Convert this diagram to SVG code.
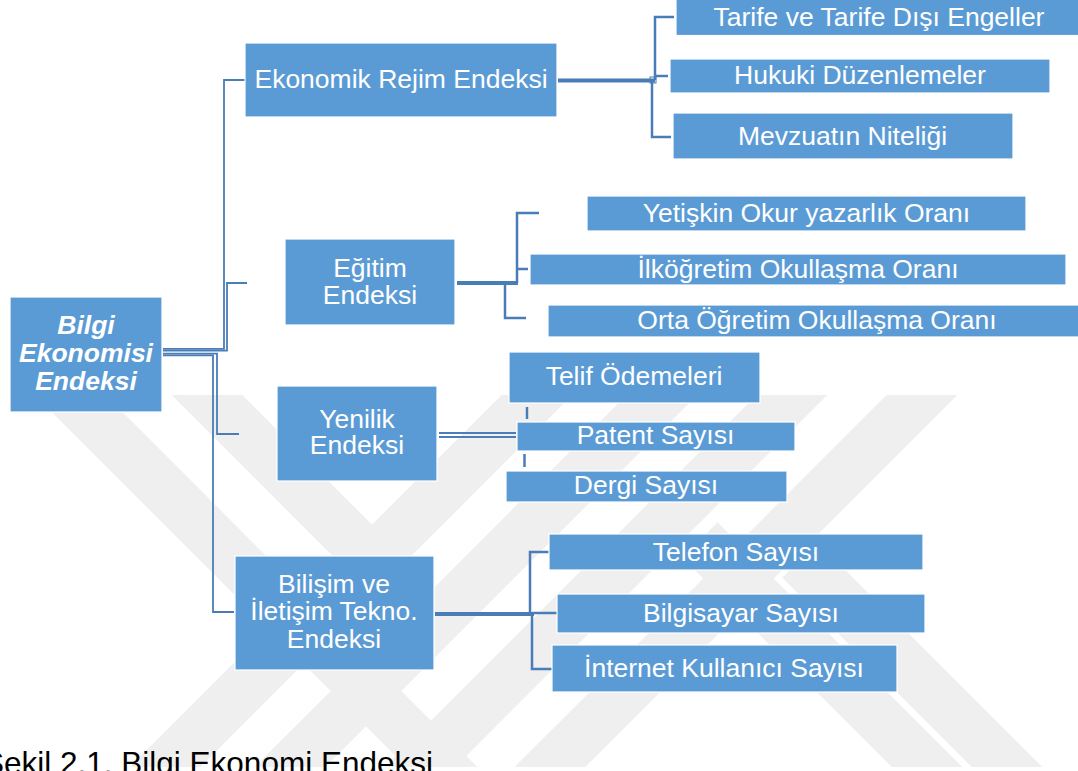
<svg xmlns="http://www.w3.org/2000/svg" width="1078" height="771" viewBox="0 0 1078 771">
<style>
.box{fill:#5b9bd5;stroke:#ffffff;stroke-width:1.2}
.t{font-family:"Liberation Sans",Arial,sans-serif;font-size:26.5px;fill:#ffffff;text-anchor:middle}
.rt{font-weight:bold;font-style:italic}
.c{fill:none;stroke:#4a7db6;stroke-width:2.5}
.ct{fill:none;stroke:#4a7db6;stroke-width:4}
.cd{fill:none;stroke:#4a7db6;stroke-width:1.8}
.wm{fill:none;stroke:#efefef;stroke-width:50;stroke-linecap:butt}
.cap{font-family:"Liberation Sans",Arial,sans-serif;font-size:31.5px;fill:#000000}
</style>
<defs>
<clipPath id="wmclip"><rect x="0" y="395" width="1078" height="372"/></clipPath>
</defs>
<rect width="1078" height="771" fill="#ffffff"/>
<g id="watermark" clip-path="url(#wmclip)">
<line class="wm" x1="130" y1="802" x2="572" y2="360"/>
<line class="wm" x1="255" y1="802" x2="697" y2="360"/>
<line class="wm" x1="385" y1="802" x2="827" y2="360"/>
<line class="wm" x1="515" y1="802" x2="957" y2="360"/>
<line class="wm" x1="35" y1="360" x2="477" y2="802"/>
<line class="wm" x1="172" y1="360" x2="390" y2="578"/>
<line class="wm" x1="700" y1="540" x2="962" y2="802"/>
<line class="wm" x1="800" y1="560" x2="1042" y2="802"/>
</g>
<g id="connectors">
<path class="cd" d="M163,348.8 H224 V80 H245"/>
<path class="cd" d="M163,350.6 H227 V283 H247"/>
<path class="cd" d="M163,353.6 H217 V434 H239"/>
<path class="cd" d="M163,355.4 H213 V612 H234"/>
<path class="ct" d="M558,80.5 H655"/>
<path class="c" d="M655,80 V17 H674"/>
<path class="c" d="M652,80 V137 H671"/>
<path class="c" d="M655,76 H668"/>
<rect x="650" y="77" width="6" height="6" fill="none" stroke="#4a7db6" stroke-width="1"/>
<path class="ct" d="M457,283 H518"/>
<path class="c" d="M517,283 V213 H539"/>
<path class="c" d="M517,269 H528"/>
<path class="c" d="M505,283 V318 H526"/>
<path class="cd" d="M439,433 H516"/>
<path class="cd" d="M439,437 H516"/>
<path class="c" d="M527,407 V419"/>
<path class="c" d="M524.5,454 V467"/>
<path class="ct" d="M435,614 H534"/>
<path class="c" d="M530,614 V552 H549"/>
<path class="c" d="M532,613 H557"/>
<path class="c" d="M532,614 V669 H552"/>
</g>
<g id="root">
<rect class="box" x="10" y="297" width="152" height="115"/>
<text class="t rt" x="86" y="334">Bilgi</text>
<text class="t rt" x="86" y="362">Ekonomisi</text>
<text class="t rt" x="86" y="390">Endeksi</text>
</g>
<g id="ekonomik">
<rect class="box" x="245" y="43" width="312" height="74"/>
<text class="t" x="401" y="88">Ekonomik Rejim Endeksi</text>
</g>
<g id="egitim">
<rect class="box" x="285" y="239" width="170" height="86"/>
<text class="t" x="370" y="277">Eğitim</text>
<text class="t" x="370" y="304">Endeksi</text>
</g>
<g id="yenilik">
<rect class="box" x="277" y="386" width="160" height="95"/>
<text class="t" x="357" y="428">Yenilik</text>
<text class="t" x="357" y="454">Endeksi</text>
</g>
<g id="bilisim">
<rect class="box" x="235" y="556" width="199" height="114"/>
<text class="t" x="334" y="593">Bilişim ve</text>
<text class="t" x="334" y="620">İletişim Tekno.</text>
<text class="t" x="334" y="648">Endeksi</text>
</g>
<g id="tarife">
<rect class="box" x="676" y="-2" width="410" height="37.5"/>
<text class="t" x="879" y="26">Tarife ve Tarife Dışı Engeller</text>
</g>
<g id="hukuki">
<rect class="box" x="670" y="59" width="380" height="34"/>
<text class="t" x="860" y="83.5">Hukuki Düzenlemeler</text>
</g>
<g id="mevzuat">
<rect class="box" x="673" y="113" width="340" height="46"/>
<text class="t" x="842.5" y="145">Mevzuatın Niteliği</text>
</g>
<g id="yetiskin">
<rect class="box" x="587" y="196" width="439" height="35"/>
<text class="t" x="806.5" y="221.5">Yetişkin Okur yazarlık Oranı</text>
</g>
<g id="ilkogretim">
<rect class="box" x="530" y="254" width="536" height="31"/>
<text class="t" x="798" y="277.5">İlköğretim Okullaşma Oranı</text>
</g>
<g id="orta">
<rect class="box" x="548" y="305" width="540" height="32"/>
<text class="t" x="817" y="328.5">Orta Öğretim Okullaşma Oranı</text>
</g>
<g id="telif">
<rect class="box" x="509" y="352" width="251" height="51"/>
<text class="t" x="634" y="385">Telif Ödemeleri</text>
</g>
<g id="patent">
<rect class="box" x="517" y="422" width="278" height="29"/>
<text class="t" x="655.5" y="444">Patent Sayısı</text>
</g>
<g id="dergi">
<rect class="box" x="506" y="471" width="281" height="31"/>
<text class="t" x="646" y="494">Dergi Sayısı</text>
</g>
<g id="telefon">
<rect class="box" x="549" y="534" width="374" height="36"/>
<text class="t" x="736" y="561">Telefon Sayısı</text>
</g>
<g id="bilgisayar">
<rect class="box" x="557" y="594" width="368" height="39"/>
<text class="t" x="741" y="621.5">Bilgisayar Sayısı</text>
</g>
<g id="internet">
<rect class="box" x="552" y="645" width="345" height="47"/>
<text class="t" x="724" y="677">İnternet Kullanıcı Sayısı</text>
</g>
<text class="cap" x="-17" y="774">Şekil 2.1. Bilgi Ekonomi Endeksi</text>
</svg>
